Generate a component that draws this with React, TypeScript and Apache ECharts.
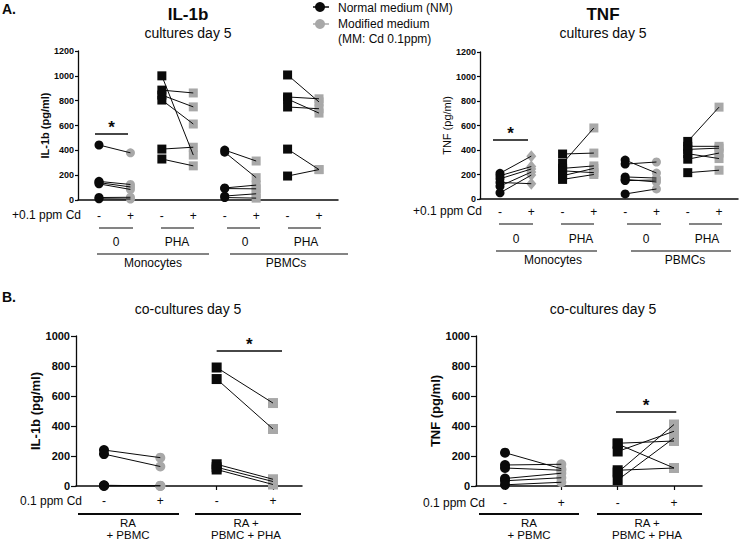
import React, { useEffect, useRef } from "react";
import * as echarts from "echarts";

const FONT = "'Liberation Sans', Arial, Helvetica, sans-serif";
const BLACK = "#0a0a0a";
const GRAY = "#a8a8a8";

// ---------- data (pg/ml) ----------
// A. cultures day 5 — IL-1b
const il1bMonoCtrlNM = [443, 150, 140, 130, 20, 10];
const il1bMonoCtrlMM = [380, 125, 105, 85, 22, 8];
const il1bMonoPhaNM = [1000, 885, 845, 805, 410, 330];
const il1bMonoPhaMM = [362, 862, 750, 612, 425, 275];
const il1bPbmcCtrlNM = [402, 385, 97, 92, 32, 20];
const il1bPbmcCtrlMM = [314, 180, 120, 90, 50, 15];
const il1bPbmcPhaNM = [1007, 830, 813, 749, 410, 193];
const il1bPbmcPhaMM = [790, 815, 700, 735, 245, 245];

// A. cultures day 5 — TNF
const tnfMonoCtrlNM = [210, 190, 165, 135, 105, 50];
const tnfMonoCtrlMM = [350, 265, 245, 125, 220, 195];
const tnfMonoPhaNM = [367, 290, 250, 230, 190, 160];
const tnfMonoPhaMM = [375, 580, 270, 215, 250, 200];
const tnfPbmcCtrlNM = [318, 285, 180, 160, 150, 41];
const tnfPbmcCtrlMM = [212, 302, 171, 139, 155, 82];
const tnfPbmcPhaNM = [470, 430, 405, 370, 325, 215];
const tnfPbmcPhaMM = [750, 430, 415, 330, 375, 235];

// B. co-cultures day 5 — IL-1b
const coIl1bPbmcNM = [240, 213, 5, 3, 0];
const coIl1bPbmcMM = [189, 130, 0, 2, 0];
const coIl1bPhaNM = [790, 713, 145, 125, 110];
const coIl1bPhaMM = [553, 380, 45, 30, 10];

// B. co-cultures day 5 — TNF
const coTnfPbmcNM = [222, 140, 120, 50, 35, 8];
const coTnfPbmcMM = [115, 145, 105, 85, 55, 25];
const coTnfPhaNM = [285, 230, 280, 105, 90, 40];
const coTnfPhaMM = [300, 365, 120, 120, 410, 320];

// axis categories / labels
const cultureTicks = [1, 2, 3, 4, 5, 6, 7, 8];
const cultureCdLabels = ["-", "+", "-", "+", "-", "+", "-", "+"];
const cocultureTicks = [1, 2, 3, 4];
const cocultureCdLabels = ["-", "+", "-", "+"];
const cultureStim = ["0", "PHA", "0", "PHA"];
const cultureCells = ["Monocytes", "PBMCs"];
const coGroups = ["RA\n+ PBMC", "RA +\nPBMC + PHA"];
const cultureYTicks = { min: 0, max: 1200, interval: 200 };
const cocultureYTicks = { min: 0, max: 1000, interval: 200 };

// significance (value, x-range in group positions)
const sigIl1bCulture = { y: 531, from: 0.873, to: 1.923 };
const sigTnfCulture = { y: 482, from: 0.776, to: 1.895 };
const sigIl1bCo = { y: 900, from: 3.0, to: 4.16 };
const sigTnfCo = { y: 493, from: 2.97, to: 4.04 };

function pairSeries(
  axis: number,
  x: number,
  nm: number[],
  mm: number[],
  shapeNM: string,
  shapeMM: string,
  size: any
) {
  const out: any[] = [];
  nm.forEach((v, i) => {
    out.push({
      type: "line",
      xAxisIndex: axis,
      yAxisIndex: axis,
      data: [
        [x, v],
        [x + 1, mm[i]],
      ],
      symbol: "none",
      lineStyle: { color: BLACK, width: 1 },
      z: 4,
      silent: true,
    });
  });
  out.push({
    type: "scatter",
    xAxisIndex: axis,
    yAxisIndex: axis,
    data: mm.map((v) => [x + 1, v]),
    symbol: shapeMM,
    symbolSize: shapeMM === "diamond" ? [10, 12] : size,
    itemStyle: { color: GRAY, opacity: 1 },
    z: 2,
    silent: true,
  });
  out.push({
    type: "scatter",
    xAxisIndex: axis,
    yAxisIndex: axis,
    data: nm.map((v) => [x, v]),
    symbol: shapeNM,
    symbolSize: size,
    itemStyle: { color: BLACK, opacity: 1 },
    z: 3,
    silent: true,
  });
  return out;
}

function sigSeries(axis: number, s: { y: number; from: number; to: number }, dist: number) {
  return {
    type: "line",
    xAxisIndex: axis,
    yAxisIndex: axis,
    data: [[s.from, s.y]],
    symbol: "none",
    z: 5,
    markLine: {
      silent: true,
      symbol: ["none", "none"],
      lineStyle: { color: BLACK, width: 1.6, type: "solid" },
      label: {
        show: true,
        position: "middle",
        formatter: "*",
        fontSize: 17,
        fontWeight: "bold",
        fontFamily: FONT,
        color: BLACK,
        distance: dist,
      },
      data: [[{ coord: [s.from, s.y] }, { coord: [s.to, s.y] }]],
    },
  };
}

function xAxisDef(grid: number, min: number, max: number, ticks: number[], labels: string[], margin: number, showTicks: boolean) {
  return {
    type: "value",
    gridIndex: grid,
    min,
    max,
    axisLine: { show: true, onZero: false, lineStyle: { color: BLACK, width: 1.5 } },
    axisTick: { show: showTicks, customValues: ticks, length: 4, lineStyle: { color: BLACK, width: 1.2 } },
    splitLine: { show: false },
    axisLabel: {
      customValues: ticks,
      formatter: (v: number) => labels[Math.round(v) - 1] ?? "",
      margin,
      fontSize: 12,
      fontFamily: FONT,
      color: BLACK,
    },
  };
}

function yAxisDef(grid: number, range: any, name: string, nameGap: number, labelSize: number, nameSize: number, nameBold: boolean, tickLen: number) {
  return {
    type: "value",
    gridIndex: grid,
    min: range.min,
    max: range.max,
    interval: range.interval,
    name,
    nameLocation: "middle",
    nameGap,
    nameRotate: 90,
    nameTextStyle: { fontSize: nameSize, fontWeight: nameBold ? "bold" : "normal", fontFamily: FONT, color: BLACK },
    axisLine: { show: true, lineStyle: { color: BLACK, width: 1.3 } },
    axisTick: { show: true, length: tickLen, lineStyle: { color: BLACK, width: 1.2 } },
    splitLine: { show: false },
    axisLabel: {
      fontSize: labelSize,
      fontWeight: "bold",
      fontFamily: FONT,
      color: BLACK,
      margin: tickLen + 1,
      formatter: (v: number) => String(v),
    },
  };
}

const txt = (x: number, y: number, text: string, size = 12, align = "center", weight = "normal", lineHeight?: number) => ({
  type: "text",
  x,
  y,
  silent: true,
  style: {
    text,
    fill: BLACK,
    fontSize: size,
    fontFamily: FONT,
    fontWeight: weight,
    align,
    verticalAlign: "middle",
    lineHeight: lineHeight ?? Math.round(size * 1.2),
  },
});
const ln = (x1: number, x2: number, y: number, w = 1.2, color = BLACK) => ({
  type: "line",
  silent: true,
  shape: { x1, y1: y, x2, y2: y },
  style: { stroke: color, lineWidth: w },
});

export default function App() {
  const ref = useRef<HTMLDivElement>(null);
  useEffect(() => {
    document.body.style.margin = "0";
    if (!ref.current) return;
    const chart = echarts.init(ref.current, null, { renderer: "svg" });

    const series: any[] = [
      ...pairSeries(0, 1, il1bMonoCtrlNM, il1bMonoCtrlMM, "circle", "circle", 9),
      ...pairSeries(0, 3, il1bMonoPhaNM, il1bMonoPhaMM, "rect", "rect", 9),
      ...pairSeries(0, 5, il1bPbmcCtrlNM, il1bPbmcCtrlMM, "circle", "rect", 9),
      ...pairSeries(0, 7, il1bPbmcPhaNM, il1bPbmcPhaMM, "rect", "rect", 9),
      ...pairSeries(1, 1, tnfMonoCtrlNM, tnfMonoCtrlMM, "circle", "diamond", 9),
      ...pairSeries(1, 3, tnfMonoPhaNM, tnfMonoPhaMM, "rect", "rect", 9),
      ...pairSeries(1, 5, tnfPbmcCtrlNM, tnfPbmcCtrlMM, "circle", "circle", 9),
      ...pairSeries(1, 7, tnfPbmcPhaNM, tnfPbmcPhaMM, "rect", "rect", 9),
      ...pairSeries(2, 1, coIl1bPbmcNM, coIl1bPbmcMM, "circle", "circle", 10),
      ...pairSeries(2, 3, coIl1bPhaNM, coIl1bPhaMM, "rect", "rect", 10),
      ...pairSeries(3, 1, coTnfPbmcNM, coTnfPbmcMM, "circle", "circle", 10),
      ...pairSeries(3, 3, coTnfPhaNM, coTnfPhaMM, "rect", "rect", 10),
      sigSeries(0, sigIl1bCulture, -2),
      sigSeries(1, sigTnfCulture, -2),
      sigSeries(2, sigIl1bCo, -2),
      sigSeries(3, sigTnfCo, -2),
    ];

    const graphic: any[] = [
      txt(2, 9, "A.", 14, "left", "bold"),
      txt(2, 297, "B.", 14, "left", "bold"),
      txt(188, 14, "IL-1b", 17, "center", "bold"),
      txt(188, 33, "cultures day 5", 14),
      txt(603, 14, "TNF", 17, "center", "bold"),
      txt(603, 33, "cultures day 5", 14),
      txt(188, 309, "co-cultures day 5", 14),
      txt(603, 309, "co-cultures day 5", 14),
      // legend
      ln(313, 329, 7, 1.5, BLACK),
      { type: "circle", silent: true, shape: { cx: 320, cy: 7, r: 5 }, style: { fill: BLACK } },
      txt(338, 8, "Normal medium (NM)", 12, "left"),
      ln(313, 329, 24, 1.5, GRAY),
      { type: "circle", silent: true, shape: { cx: 320, cy: 24, r: 5 }, style: { fill: GRAY } },
      txt(338, 31.5, "Modified medium\n(MM: Cd 0.1ppm)", 12, "left", "normal", 15),
      // top-left annotations
      txt(81, 215, "+0.1 ppm Cd", 12, "right"),
      ln(99, 133, 228), ln(161, 194, 228), ln(227, 260, 228), ln(288, 321, 228),
      txt(116, 242, cultureStim[0]), txt(177, 242, cultureStim[1]), txt(245, 242, cultureStim[2]), txt(306, 242, cultureStim[3]),
      ln(97, 209, 254), ln(230, 348, 254),
      txt(153, 263, cultureCells[0]), txt(286, 263, cultureCells[1]),
      // top-right annotations
      txt(482, 211, "+0.1 ppm Cd", 12, "right"),
      ln(499, 533, 224), ln(561, 594, 224), ln(627, 661, 224), ln(689, 722, 224),
      txt(516, 239, cultureStim[0]), txt(581, 239, cultureStim[1]), txt(646, 239, cultureStim[2]), txt(707, 239, cultureStim[3]),
      ln(496, 597, 251), ln(631, 731, 251),
      txt(553, 260, cultureCells[0]), txt(685, 260, cultureCells[1]),
      // bottom-left annotations
      txt(82, 501, "0.1 ppm Cd", 12, "right"),
      ln(78, 179, 514, 2), ln(195, 301, 514, 2),
      txt(128, 529, coGroups[0], 11.5, "center", "normal", 12.5),
      txt(246, 529, coGroups[1], 11.5, "center", "normal", 12.5),
      // bottom-right annotations
      txt(485, 503, "0.1 ppm Cd", 12, "right"),
      ln(479, 579, 514, 2), ln(597, 702, 514, 2),
      txt(529, 529, coGroups[0], 11.5, "center", "normal", 12.5),
      txt(647, 529, coGroups[1], 11.5, "center", "normal", 12.5),
    ];

    chart.setOption({
      animation: false,
      textStyle: { fontFamily: FONT },
      grid: [
        { left: 78, top: 51, width: 260, height: 149, containLabel: false },
        { left: 480, top: 52, width: 258, height: 147, containLabel: false },
        { left: 76, top: 336, width: 226, height: 150, containLabel: false },
        { left: 476, top: 336, width: 226, height: 150, containLabel: false },
      ],
      xAxis: [
        xAxisDef(0, 0.332, 8.604, cultureTicks, cultureCdLabels, 10, false),
        xAxisDef(1, 0.361, 8.606, cultureTicks, cultureCdLabels, 7, false),
        xAxisDef(2, 0.503, 4.515, cocultureTicks, cocultureCdLabels, 9, true),
        xAxisDef(3, 0.485, 4.497, cocultureTicks, cocultureCdLabels, 11, true),
      ],
      yAxis: [
        yAxisDef(0, cultureYTicks, "IL-1b (pg/ml)", 20, 9, 11, true, 3),
        yAxisDef(1, cultureYTicks, "TNF (pg/ml)", 19, 9, 11, false, 3),
        yAxisDef(2, cocultureYTicks, "IL-1b (pg/ml)", 32, 11, 13, true, 5),
        yAxisDef(3, cocultureYTicks, "TNF (pg/ml)", 33, 11, 13, true, 5),
      ],
      series,
      graphic,
    });
    return () => chart.dispose();
  }, []);
  return <div ref={ref} style={{ width: 740, height: 542 }} />;
}
